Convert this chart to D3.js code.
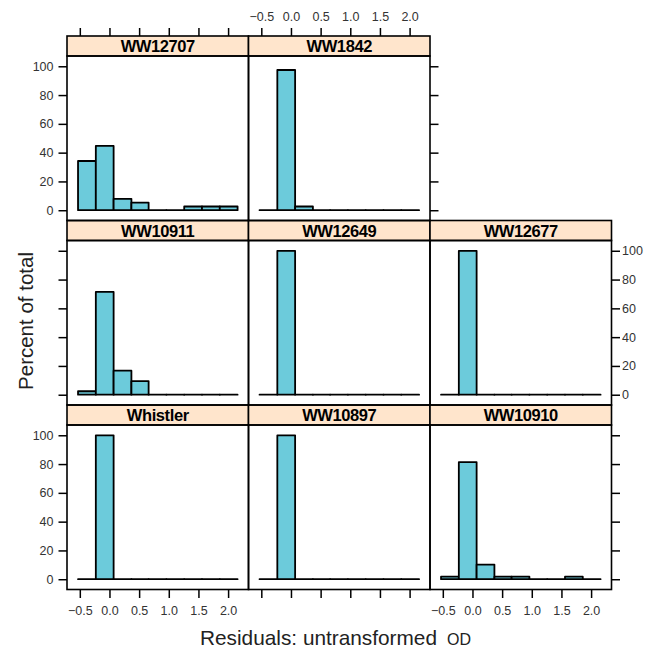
<!DOCTYPE html>
<html>
<head>
<meta charset="utf-8">
<script src="https://cdn.jsdelivr.net/npm/d3@7"></script>
<style>
  html, body { margin: 0; padding: 0; background: #fff; }
  svg { display: block; font-family: "Liberation Sans", Arial, Helvetica, sans-serif; }
</style>
</head>
<body>
<svg id="chart" width="652" height="649"></svg>
<script>
// ---------------- data ----------------
// histogram bin edges (Residuals: untransformed OD)
const binEdges = [-0.53, -0.23, 0.07, 0.37, 0.66, 0.96, 1.26, 1.56, 1.86, 2.16];
// panel names in lattice order (bottom-left first, row by row)
const panelNames = ["Whistler", "WW10897", "WW10910", "WW10911", "WW12649", "WW12677", "WW12707", "WW1842"];
// percent of total per bin
const pctWhistler = [0, 100, 0, 0, 0, 0, 0, 0, 0];
const pctWW10897  = [0, 100, 0, 0, 0, 0, 0, 0, 0];
const pctWW10910  = [1.8, 81.3, 10.2, 1.8, 1.8, 0, 0, 1.8, 0];
const pctWW10911  = [2.4, 71.4, 16.7, 9.5, 0, 0, 0, 0, 0];
const pctWW12649  = [0, 100, 0, 0, 0, 0, 0, 0, 0];
const pctWW12677  = [0, 100, 0, 0, 0, 0, 0, 0, 0];
const pctWW12707  = [34.2, 44.7, 7.9, 5.3, 0, 0, 2.6, 2.6, 2.6];
const pctWW1842   = [0, 97.4, 2.6, 0, 0, 0, 0, 0, 0];
const panelValues = [pctWhistler, pctWW10897, pctWW10910, pctWW10911, pctWW12649, pctWW12677, pctWW12707, pctWW1842];
// axis ticks
const xTicks = [-0.5, 0.0, 0.5, 1.0, 1.5, 2.0];
const yTicks = [0, 20, 40, 60, 80, 100];
const xLabelMain = "Residuals: untransformed";
const xLabelUnit = "OD";
const yLabel = "Percent of total";

// ---------------- layout ----------------
const svg = d3.select("#chart");
const nCols = 3, nRows = 3;
const colLeft = 67, colW = 181.5;
const rowTop = 36, rowH = 184.5, stripH = 20;
const barFill = "#6ccbdb", stripFill = "#ffe5cc";
const xDomain = [-0.716, 2.344], yDomain = [-7.14, 107.14];
const tickColor = "#333";

function panelBox(i) {
  const col = i % nCols;
  const rowFromBottom = Math.floor(i / nCols);
  const row = nRows - 1 - rowFromBottom; // 0 = top row on screen
  const x0 = colLeft + col * colW;
  const top = rowTop + row * rowH;
  return { col, row, x0, x1: x0 + colW, top, ptop: top + stripH, bottom: top + rowH };
}

const gBars = svg.append("g");
const gFrames = svg.append("g");
const gAxes = svg.append("g");

function styleAxis(g, showLabels) {
  g.select(".domain").remove();
  g.selectAll(".tick line").attr("stroke", "#000").attr("stroke-width", 1.5);
  g.selectAll(".tick text").attr("fill", tickColor).style("font-size", "12.5px");
  if (!showLabels) g.selectAll(".tick text").remove();
}

panelNames.forEach((name, i) => {
  const b = panelBox(i);
  const x = d3.scaleLinear().domain(xDomain).range([b.x0, b.x1]);
  const y = d3.scaleLinear().domain(yDomain).range([b.bottom, b.ptop]);
  const vals = panelValues[i];
  const bins = vals.map((v, k) => ({ x0: binEdges[k], x1: binEdges[k + 1], v }));

  // bars (zero-height bins render as a baseline)
  gBars.append("g").selectAll("path").data(bins).join("path")
    .attr("d", d => {
      const xa = x(d.x0), xb = x(d.x1), ya = y(0), yb = y(d.v);
      return `M${xa},${ya}V${yb}H${xb}V${ya}Z`;
    })
    .attr("fill", barFill)
    .attr("stroke", "#000")
    .attr("stroke-width", 1.8)
    .attr("stroke-linejoin", "round");

  // strip
  gFrames.append("rect")
    .attr("x", b.x0).attr("y", b.top).attr("width", colW).attr("height", stripH)
    .attr("fill", stripFill).attr("stroke", "#000").attr("stroke-width", 1.6);
  gFrames.append("text")
    .attr("x", (b.x0 + b.x1) / 2).attr("y", b.top + 16)
    .attr("text-anchor", "middle")
    .style("font-size", "16.5px").style("font-weight", "bold")
    .style("letter-spacing", "-0.4px")
    .attr("fill", "#000")
    .text(name);
  // panel frame
  gFrames.append("rect")
    .attr("x", b.x0).attr("y", b.ptop).attr("width", colW).attr("height", b.bottom - b.ptop)
    .attr("fill", "none").attr("stroke", "#000").attr("stroke-width", 1.6);

  const rowFromBottom = Math.floor(i / nCols);
  const hasRight = (b.col < nCols - 1) && (i + 1) < panelNames.length;

  // left axis
  if (b.col === 0) {
    const labels = (rowFromBottom % 2 === 0);
    const g = gAxes.append("g").attr("transform", `translate(${b.x0},0)`)
      .call(d3.axisLeft(y).tickValues(yTicks).tickSize(8.5).tickPadding(5));
    styleAxis(g, labels);
  }
  // right axis
  if (!hasRight) {
    const labels = (rowFromBottom % 2 === 1);
    const g = gAxes.append("g").attr("transform", `translate(${b.x1},0)`)
      .call(d3.axisRight(y).tickValues(yTicks).tickSize(8.5).tickPadding(2));
    styleAxis(g, labels);
  }
  // bottom axis
  if (rowFromBottom === 0) {
    const labels = (b.col % 2 === 0);
    const g = gAxes.append("g").attr("transform", `translate(0,${b.bottom})`)
      .call(d3.axisBottom(x).tickValues(xTicks).tickFormat(d3.format(".1f")).tickSize(8.5).tickPadding(8.5));
    styleAxis(g, labels);
  }
  // top axis (top screen row only)
  if (b.row === 0) {
    const labels = (b.col % 2 === 1);
    const g = gAxes.append("g").attr("transform", `translate(0,${b.top})`)
      .call(d3.axisTop(x).tickValues(xTicks).tickFormat(d3.format(".1f")).tickSize(8).tickPadding(7));
    styleAxis(g, labels);
  }
});

// axis titles
svg.append("text")
  .attr("transform", "translate(32.5,321) rotate(-90)")
  .attr("text-anchor", "middle")
  .style("font-size", "20.5px")
  .attr("fill", "#222")
  .text(yLabel);

svg.append("text")
  .attr("x", 200).attr("y", 645)
  .style("font-size", "20.8px")
  .attr("fill", "#222")
  .text(xLabelMain);
svg.append("text")
  .attr("x", 447).attr("y", 645)
  .style("font-size", "16px")
  .attr("fill", "#222")
  .text(xLabelUnit);
</script>
</body>
</html>
